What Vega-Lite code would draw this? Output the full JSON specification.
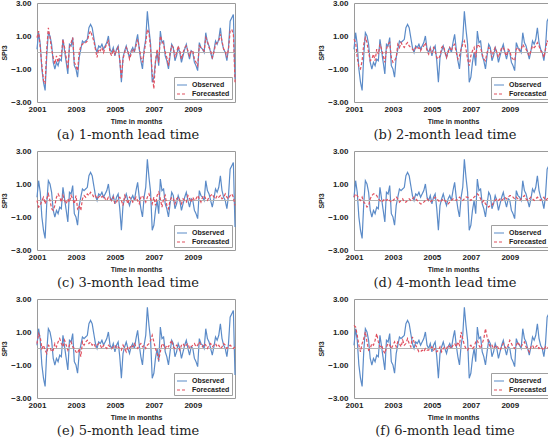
{
"$schema": "https://vega.github.io/schema/vega-lite/v6.json",
"padding": {"left": 0, "top": -2, "right": 0, "bottom": 0},
"background": "white",
"datasets": {"d": [
{"m":0,"o":0.2,"a":0.9,"b":0.8,"c":0.0,"d":0.2,"e":0.3,"f":1.4},
{"m":1,"o":1.2,"a":1.3,"b":0.6,"c":-0.4,"d":0.4,"e":0.9,"f":1.3},
{"m":2,"o":0.5,"a":0.3,"b":-0.3,"c":-0.3,"d":0.3,"e":0.7,"f":0.8},
{"m":3,"o":-1.0,"a":-0.8,"b":-0.9,"c":0.0,"d":0.1,"e":0.0,"f":0.2},
{"m":4,"o":-1.8,"a":-1.7,"b":-1.0,"c":0.2,"d":0.0,"e":0.2,"f":-0.2},
{"m":5,"o":-2.3,"a":-1.9,"b":-0.5,"c":-0.2,"d":0.2,"e":-0.1,"f":0.3},
{"m":6,"o":-0.2,"a":0.2,"b":0.5,"c":0.1,"d":-0.1,"e":-0.3,"f":0.6},
{"m":7,"o":1.2,"a":1.5,"b":0.9,"c":0.4,"d":-0.2,"e":0.2,"f":1.0},
{"m":8,"o":1.0,"a":0.9,"b":0.6,"c":0.0,"d":-0.4,"e":0.1,"f":0.4},
{"m":9,"o":0.5,"a":0.2,"b":0.0,"c":-0.5,"d":-0.3,"e":-0.2,"f":-0.1},
{"m":10,"o":-0.6,"a":-0.3,"b":-0.5,"c":-0.6,"d":0.1,"e":-0.1,"f":0.0},
{"m":11,"o":-1.0,"a":-0.7,"b":-0.4,"c":-0.3,"d":0.3,"e":0.3,"f":0.3},
{"m":12,"o":-0.6,"a":-0.2,"b":-0.1,"c":0.2,"d":0.4,"e":0.1,"f":0.2},
{"m":13,"o":-0.8,"a":-0.6,"b":-0.5,"c":0.4,"d":0.4,"e":0.4,"f":0.5},
{"m":14,"o":-0.4,"a":-0.2,"b":0.2,"c":0.2,"d":0.3,"e":0.6,"f":0.9},
{"m":15,"o":-0.5,"a":-0.2,"b":-0.1,"c":-0.1,"d":0.1,"e":0.3,"f":0.4},
{"m":16,"o":0.8,"a":0.8,"b":0.5,"c":0.3,"d":0.0,"e":0.1,"f":0.1},
{"m":17,"o":0.1,"a":0.3,"b":0.2,"c":0.0,"d":-0.1,"e":0.5,"f":0.2},
{"m":18,"o":-0.6,"a":-0.3,"b":-0.2,"c":-0.2,"d":0.0,"e":0.2,"f":-0.1},
{"m":19,"o":-1.3,"a":-1.0,"b":-0.6,"c":0.1,"d":0.1,"e":-0.1,"f":-0.3},
{"m":20,"o":0.5,"a":0.3,"b":0.2,"c":-0.1,"d":0.0,"e":0.2,"f":0.1},
{"m":21,"o":0.4,"a":0.6,"b":0.5,"c":0.3,"d":0.1,"e":0.4,"f":0.3},
{"m":22,"o":0.9,"a":0.9,"b":0.6,"c":0.1,"d":0.0,"e":0.1,"f":0.2},
{"m":23,"o":-0.8,"a":-0.6,"b":-0.3,"c":-0.2,"d":-0.1,"e":0.0,"f":0.0},
{"m":24,"o":-1.0,"a":-0.8,"b":-0.6,"c":0.3,"d":0.0,"e":-0.2,"f":0.2},
{"m":25,"o":-1.5,"a":-1.1,"b":-0.5,"c":-0.5,"d":0.1,"e":-0.3,"f":0.4},
{"m":26,"o":-0.3,"a":0.0,"b":-0.3,"c":-0.3,"d":0.2,"e":0.0,"f":0.1},
{"m":27,"o":0.2,"a":0.4,"b":0.5,"c":-0.6,"d":0.1,"e":-0.5,"f":0.4},
{"m":28,"o":0.7,"a":0.5,"b":0.3,"c":0.1,"d":-0.1,"e":0.4,"f":0.3},
{"m":29,"o":0.6,"a":0.6,"b":0.6,"c":0.3,"d":0.0,"e":0.2,"f":0.1},
{"m":30,"o":0.7,"a":0.6,"b":0.4,"c":0.2,"d":0.1,"e":0.4,"f":0.5},
{"m":31,"o":0.8,"a":0.7,"b":0.3,"c":0.4,"d":-0.1,"e":0.5,"f":0.2},
{"m":32,"o":1.5,"a":1.1,"b":0.5,"c":0.3,"d":-0.1,"e":0.3,"f":0.3},
{"m":33,"o":1.7,"a":1.3,"b":0.6,"c":0.5,"d":0.0,"e":0.4,"f":0.6},
{"m":34,"o":1.5,"a":1.0,"b":0.4,"c":0.4,"d":0.1,"e":0.2,"f":0.3},
{"m":35,"o":0.9,"a":0.7,"b":0.3,"c":0.2,"d":0.0,"e":0.3,"f":0.1},
{"m":36,"o":0.3,"a":0.2,"b":0.2,"c":0.3,"d":0.1,"e":0.1,"f":0.7},
{"m":37,"o":0.0,"a":-0.3,"b":0.1,"c":0.1,"d":0.2,"e":0.2,"f":0.4},
{"m":38,"o":0.4,"a":0.2,"b":0.3,"c":0.2,"d":0.1,"e":0.3,"f":0.2},
{"m":39,"o":0.3,"a":0.1,"b":0.2,"c":0.3,"d":0.0,"e":0.2,"f":0.0},
{"m":40,"o":0.5,"a":0.3,"b":0.3,"c":0.2,"d":-0.1,"e":0.0,"f":-0.2},
{"m":41,"o":0.2,"a":0.0,"b":0.1,"c":0.3,"d":-0.2,"e":0.2,"f":-0.2},
{"m":42,"o":0.4,"a":0.3,"b":0.3,"c":0.1,"d":-0.2,"e":0.1,"f":-0.1},
{"m":43,"o":0.6,"a":0.5,"b":0.4,"c":0.0,"d":-0.1,"e":0.0,"f":-0.2},
{"m":44,"o":1.0,"a":0.7,"b":0.6,"c":0.2,"d":0.0,"e":0.2,"f":0.0},
{"m":45,"o":0.2,"a":0.0,"b":0.1,"c":0.1,"d":0.1,"e":0.1,"f":-0.1},
{"m":46,"o":0.0,"a":-0.2,"b":-0.1,"c":0.0,"d":0.0,"e":0.0,"f":-0.1},
{"m":47,"o":0.3,"a":0.2,"b":0.2,"c":0.2,"d":-0.1,"e":0.1,"f":0.0},
{"m":48,"o":-0.2,"a":-0.1,"b":0.0,"c":-0.2,"d":0.0,"e":0.2,"f":0.1},
{"m":49,"o":0.2,"a":0.1,"b":0.3,"c":-0.1,"d":0.1,"e":0.0,"f":-0.1},
{"m":50,"o":0.4,"a":0.3,"b":0.1,"c":0.1,"d":0.2,"e":0.1,"f":0.0},
{"m":51,"o":-0.5,"a":-0.4,"b":-0.3,"c":0.2,"d":0.1,"e":0.0,"f":-0.2},
{"m":52,"o":-1.8,"a":-1.6,"b":-0.4,"c":0.0,"d":0.0,"e":-0.1,"f":-0.1},
{"m":53,"o":-0.3,"a":-0.4,"b":-0.2,"c":-0.3,"d":-0.1,"e":0.2,"f":0.1},
{"m":54,"o":0.1,"a":0.0,"b":0.3,"c":0.3,"d":0.0,"e":0.0,"f":-0.2},
{"m":55,"o":0.4,"a":0.3,"b":0.4,"c":0.1,"d":0.1,"e":-0.2,"f":0.0},
{"m":56,"o":0.0,"a":0.1,"b":0.1,"c":-0.2,"d":0.0,"e":0.1,"f":0.1},
{"m":57,"o":-0.3,"a":-0.4,"b":-0.3,"c":0.2,"d":-0.1,"e":0.0,"f":0.0},
{"m":58,"o":0.1,"a":-0.1,"b":0.0,"c":0.1,"d":-0.2,"e":0.2,"f":0.2},
{"m":59,"o":0.3,"a":0.2,"b":0.3,"c":-0.1,"d":-0.1,"e":0.1,"f":0.1},
{"m":60,"o":0.0,"a":0.1,"b":0.1,"c":0.0,"d":0.0,"e":0.3,"f":0.0},
{"m":61,"o":0.6,"a":0.4,"b":0.4,"c":0.2,"d":0.1,"e":0.1,"f":0.2},
{"m":62,"o":1.1,"a":0.8,"b":0.5,"c":0.0,"d":0.1,"e":0.0,"f":0.3},
{"m":63,"o":0.2,"a":0.3,"b":0.0,"c":-0.2,"d":0.0,"e":0.2,"f":0.1},
{"m":64,"o":-0.5,"a":-0.3,"b":-0.4,"c":0.2,"d":0.1,"e":0.3,"f":0.4},
{"m":65,"o":-1.0,"a":-0.6,"b":-0.2,"c":0.3,"d":0.2,"e":0.1,"f":0.2},
{"m":66,"o":0.2,"a":0.0,"b":0.2,"c":0.1,"d":0.1,"e":0.2,"f":1.0},
{"m":67,"o":0.8,"a":0.6,"b":0.5,"c":-0.1,"d":0.0,"e":0.0,"f":0.6},
{"m":68,"o":2.5,"a":1.4,"b":0.7,"c":0.2,"d":0.1,"e":0.2,"f":0.2},
{"m":69,"o":1.4,"a":1.2,"b":0.2,"c":0.4,"d":0.2,"e":0.3,"f":0.0},
{"m":70,"o":0.5,"a":0.2,"b":-0.4,"c":0.1,"d":0.2,"e":0.5,"f":-0.1},
{"m":71,"o":-1.8,"a":-1.3,"b":-0.8,"c":-0.2,"d":0.1,"e":0.8,"f":0.1},
{"m":72,"o":-1.5,"a":-2.2,"b":-0.2,"c":0.2,"d":0.0,"e":0.4,"f":0.2},
{"m":73,"o":-0.6,"a":-0.5,"b":0.1,"c":-0.3,"d":0.1,"e":0.0,"f":0.0},
{"m":74,"o":0.0,"a":0.2,"b":0.3,"c":0.3,"d":0.2,"e":-0.3,"f":0.1},
{"m":75,"o":-0.8,"a":-0.6,"b":-0.3,"c":0.5,"d":0.3,"e":-0.7,"f":0.4},
{"m":76,"o":1.3,"a":1.0,"b":0.5,"c":0.1,"d":0.4,"e":-0.2,"f":0.5},
{"m":77,"o":0.6,"a":0.7,"b":0.4,"c":-0.4,"d":0.3,"e":0.3,"f":0.2},
{"m":78,"o":0.7,"a":0.5,"b":0.3,"c":0.1,"d":0.1,"e":0.2,"f":0.0},
{"m":79,"o":-0.2,"a":0.0,"b":-0.1,"c":0.3,"d":-0.1,"e":0.0,"f":0.3},
{"m":80,"o":-0.5,"a":-0.3,"b":-0.4,"c":-0.3,"d":0.0,"e":0.2,"f":0.6},
{"m":81,"o":-1.0,"a":-0.8,"b":-0.5,"c":-0.5,"d":-0.2,"e":0.1,"f":1.2},
{"m":82,"o":-0.2,"a":0.0,"b":0.0,"c":0.0,"d":-0.3,"e":0.3,"f":0.7},
{"m":83,"o":0.5,"a":0.4,"b":0.3,"c":0.2,"d":-0.4,"e":0.5,"f":0.3},
{"m":84,"o":0.3,"a":0.3,"b":0.2,"c":0.1,"d":-0.3,"e":0.1,"f":0.1},
{"m":85,"o":-0.5,"a":-0.3,"b":-0.3,"c":-0.2,"d":-0.3,"e":0.0,"f":0.2},
{"m":86,"o":-0.2,"a":0.0,"b":0.1,"c":0.1,"d":-0.1,"e":0.2,"f":0.0},
{"m":87,"o":0.3,"a":0.4,"b":0.3,"c":0.2,"d":0.0,"e":0.1,"f":0.1},
{"m":88,"o":0.0,"a":0.1,"b":0.0,"c":0.0,"d":0.1,"e":-0.1,"f":0.2},
{"m":89,"o":-0.6,"a":-0.4,"b":-0.3,"c":-0.2,"d":0.0,"e":0.2,"f":0.0},
{"m":90,"o":-0.2,"a":0.0,"b":0.0,"c":0.1,"d":0.1,"e":0.3,"f":-0.1},
{"m":91,"o":0.2,"a":0.3,"b":0.3,"c":0.0,"d":0.0,"e":0.1,"f":0.1},
{"m":92,"o":0.5,"a":0.4,"b":0.3,"c":-0.1,"d":0.1,"e":0.2,"f":0.3},
{"m":93,"o":0.0,"a":0.1,"b":0.0,"c":0.3,"d":0.2,"e":0.3,"f":0.1},
{"m":94,"o":-0.4,"a":-0.2,"b":-0.2,"c":0.1,"d":0.1,"e":0.0,"f":0.0},
{"m":95,"o":0.1,"a":0.1,"b":0.2,"c":-0.1,"d":0.2,"e":0.1,"f":0.2},
{"m":96,"o":0.0,"a":0.1,"b":0.1,"c":0.2,"d":0.3,"e":0.2,"f":0.5},
{"m":97,"o":-0.6,"a":-0.4,"b":-0.3,"c":0.0,"d":0.3,"e":0.3,"f":0.3},
{"m":98,"o":-0.8,"a":-0.6,"b":-0.4,"c":0.1,"d":0.2,"e":0.1,"f":0.1},
{"m":99,"o":-1.1,"a":-0.8,"b":-0.5,"c":0.3,"d":0.1,"e":0.2,"f":0.0},
{"m":100,"o":0.6,"a":0.4,"b":0.2,"c":0.1,"d":0.2,"e":0.4,"f":0.2},
{"m":101,"o":0.3,"a":0.3,"b":0.3,"c":-0.1,"d":0.1,"e":0.2,"f":0.4},
{"m":102,"o":0.2,"a":0.2,"b":0.1,"c":0.2,"d":0.0,"e":0.1,"f":0.2},
{"m":103,"o":0.0,"a":0.1,"b":0.2,"c":0.3,"d":0.1,"e":0.3,"f":0.1},
{"m":104,"o":1.2,"a":0.9,"b":0.5,"c":0.1,"d":0.2,"e":0.2,"f":0.3},
{"m":105,"o":0.6,"a":0.7,"b":0.3,"c":0.0,"d":0.3,"e":0.0,"f":0.4},
{"m":106,"o":0.4,"a":0.3,"b":0.2,"c":0.2,"d":0.1,"e":0.2,"f":0.1},
{"m":107,"o":0.0,"a":0.1,"b":0.0,"c":0.3,"d":0.0,"e":0.3,"f":0.0},
{"m":108,"o":-0.4,"a":-0.3,"b":-0.2,"c":0.4,"d":0.1,"e":0.1,"f":-0.2},
{"m":109,"o":0.1,"a":0.0,"b":0.1,"c":0.2,"d":0.2,"e":0.2,"f":0.1},
{"m":110,"o":0.7,"a":0.5,"b":0.4,"c":0.1,"d":0.1,"e":0.3,"f":0.2},
{"m":111,"o":0.5,"a":0.6,"b":0.3,"c":0.3,"d":0.0,"e":0.1,"f":0.0},
{"m":112,"o":0.8,"a":0.7,"b":0.4,"c":0.2,"d":0.1,"e":0.2,"f":0.1},
{"m":113,"o":1.5,"a":1.1,"b":0.6,"c":0.3,"d":0.2,"e":0.0,"f":0.2},
{"m":114,"o":0.6,"a":0.7,"b":0.4,"c":0.1,"d":0.1,"e":0.1,"f":0.0},
{"m":115,"o":0.2,"a":0.2,"b":0.1,"c":0.2,"d":0.0,"e":0.3,"f":0.1},
{"m":116,"o":0.0,"a":0.1,"b":0.0,"c":0.4,"d":0.1,"e":0.2,"f":0.0},
{"m":117,"o":-0.5,"a":-0.3,"b":-0.3,"c":0.2,"d":0.2,"e":0.0,"f":-0.1},
{"m":118,"o":0.3,"a":0.2,"b":0.2,"c":0.1,"d":0.0,"e":0.1,"f":0.1},
{"m":119,"o":1.9,"a":1.3,"b":0.7,"c":0.3,"d":0.1,"e":0.2,"f":0.0},
{"m":120,"o":2.1,"a":1.4,"b":0.6,"c":0.4,"d":0.2,"e":0.1,"f":0.1},
{"m":121,"o":2.3,"a":1.1,"b":0.4,"c":0.2,"d":0.1,"e":0.0,"f":0.0},
{"m":122,"o":-1.6,"a":-1.8,"b":-0.9,"c":-0.3,"d":0.0,"e":0.1,"f":-0.1}
]},
"vconcat": [
{"hconcat": [
{"width":198,"height":99,"title":{"text":"(a) 1-month lead time"},"layer":[
{"data":{"name":"d"},"mark":{"type":"line","strokeWidth":1.2},"encoding":{"x":{"field":"m","type":"quantitative","title":"Time in months","scale":{"domain":[0,122],"nice":false},"axis":{"values":[0,24,48,72,96],"labelExpr":"2001 + datum.value/12"}},"y":{"field":"o","type":"quantitative","title":"SPI3","scale":{"domain":[-3,3],"nice":false},"axis":{"values":[-3,-1,1,3],"format":".2f","labelOverlap":false,"labelSeparation":0,"labelBound":false}},"color":{"datum":"Observed","type":"nominal","scale":{"domain":["Observed","Forecasted"],"range":["#5b8bc8","#e0505f"]},"legend":{"title":null}},"strokeDash":{"datum":"Observed","type":"nominal","scale":{"domain":["Observed","Forecasted"],"range":[[1,0],[3,2]]},"legend":{"title":null}}}},
{"data":{"values":[{}]},"mark":{"type":"rule","color":"#b4b4b4","strokeWidth":1},"encoding":{"y":{"datum":0,"type":"quantitative","title":"SPI3","axis":{"values":[-3,-1,1,3],"format":".2f","labelOverlap":false,"labelSeparation":0,"labelBound":false}}}},
{"data":{"name":"d"},"mark":{"type":"line","strokeWidth":1.2},"encoding":{"x":{"field":"m","type":"quantitative","title":"Time in months"},"y":{"field":"a","type":"quantitative","title":"SPI3","axis":{"values":[-3,-1,1,3],"format":".2f","labelOverlap":false,"labelSeparation":0,"labelBound":false}},"color":{"datum":"Forecasted","type":"nominal"},"strokeDash":{"datum":"Forecasted","type":"nominal"}}}
]},
{"width":198,"height":99,"title":{"text":"(b) 2-month lead time"},"layer":[
{"data":{"name":"d"},"mark":{"type":"line","strokeWidth":1.2},"encoding":{"x":{"field":"m","type":"quantitative","title":"Time in months","scale":{"domain":[0,122],"nice":false},"axis":{"values":[0,24,48,72,96],"labelExpr":"2001 + datum.value/12"}},"y":{"field":"o","type":"quantitative","title":"SPI3","scale":{"domain":[-3,3],"nice":false},"axis":{"values":[-3,-1,1,3],"format":".2f","labelOverlap":false,"labelSeparation":0,"labelBound":false}},"color":{"datum":"Observed","type":"nominal","scale":{"domain":["Observed","Forecasted"],"range":["#5b8bc8","#e0505f"]},"legend":{"title":null}},"strokeDash":{"datum":"Observed","type":"nominal","scale":{"domain":["Observed","Forecasted"],"range":[[1,0],[3,2]]},"legend":{"title":null}}}},
{"data":{"values":[{}]},"mark":{"type":"rule","color":"#b4b4b4","strokeWidth":1},"encoding":{"y":{"datum":0,"type":"quantitative","title":"SPI3","axis":{"values":[-3,-1,1,3],"format":".2f","labelOverlap":false,"labelSeparation":0,"labelBound":false}}}},
{"data":{"name":"d"},"mark":{"type":"line","strokeWidth":1.2},"encoding":{"x":{"field":"m","type":"quantitative","title":"Time in months"},"y":{"field":"b","type":"quantitative","title":"SPI3","axis":{"values":[-3,-1,1,3],"format":".2f","labelOverlap":false,"labelSeparation":0,"labelBound":false}},"color":{"datum":"Forecasted","type":"nominal"},"strokeDash":{"datum":"Forecasted","type":"nominal"}}}
]}
],"spacing":79,"resolve":{"legend":{"color":"independent","strokeDash":"independent"}}},
{"hconcat": [
{"width":198,"height":99,"title":{"text":"(c) 3-month lead time"},"layer":[
{"data":{"name":"d"},"mark":{"type":"line","strokeWidth":1.2},"encoding":{"x":{"field":"m","type":"quantitative","title":"Time in months","scale":{"domain":[0,122],"nice":false},"axis":{"values":[0,24,48,72,96],"labelExpr":"2001 + datum.value/12"}},"y":{"field":"o","type":"quantitative","title":"SPI3","scale":{"domain":[-3,3],"nice":false},"axis":{"values":[-3,-1,1,3],"format":".2f","labelOverlap":false,"labelSeparation":0,"labelBound":false}},"color":{"datum":"Observed","type":"nominal","scale":{"domain":["Observed","Forecasted"],"range":["#5b8bc8","#e0505f"]},"legend":{"title":null}},"strokeDash":{"datum":"Observed","type":"nominal","scale":{"domain":["Observed","Forecasted"],"range":[[1,0],[3,2]]},"legend":{"title":null}}}},
{"data":{"values":[{}]},"mark":{"type":"rule","color":"#b4b4b4","strokeWidth":1},"encoding":{"y":{"datum":0,"type":"quantitative","title":"SPI3","axis":{"values":[-3,-1,1,3],"format":".2f","labelOverlap":false,"labelSeparation":0,"labelBound":false}}}},
{"data":{"name":"d"},"mark":{"type":"line","strokeWidth":1.2},"encoding":{"x":{"field":"m","type":"quantitative","title":"Time in months"},"y":{"field":"c","type":"quantitative","title":"SPI3","axis":{"values":[-3,-1,1,3],"format":".2f","labelOverlap":false,"labelSeparation":0,"labelBound":false}},"color":{"datum":"Forecasted","type":"nominal"},"strokeDash":{"datum":"Forecasted","type":"nominal"}}}
]},
{"width":198,"height":99,"title":{"text":"(d) 4-month lead time"},"layer":[
{"data":{"name":"d"},"mark":{"type":"line","strokeWidth":1.2},"encoding":{"x":{"field":"m","type":"quantitative","title":"Time in months","scale":{"domain":[0,122],"nice":false},"axis":{"values":[0,24,48,72,96],"labelExpr":"2001 + datum.value/12"}},"y":{"field":"o","type":"quantitative","title":"SPI3","scale":{"domain":[-3,3],"nice":false},"axis":{"values":[-3,-1,1,3],"format":".2f","labelOverlap":false,"labelSeparation":0,"labelBound":false}},"color":{"datum":"Observed","type":"nominal","scale":{"domain":["Observed","Forecasted"],"range":["#5b8bc8","#e0505f"]},"legend":{"title":null}},"strokeDash":{"datum":"Observed","type":"nominal","scale":{"domain":["Observed","Forecasted"],"range":[[1,0],[3,2]]},"legend":{"title":null}}}},
{"data":{"values":[{}]},"mark":{"type":"rule","color":"#b4b4b4","strokeWidth":1},"encoding":{"y":{"datum":0,"type":"quantitative","title":"SPI3","axis":{"values":[-3,-1,1,3],"format":".2f","labelOverlap":false,"labelSeparation":0,"labelBound":false}}}},
{"data":{"name":"d"},"mark":{"type":"line","strokeWidth":1.2},"encoding":{"x":{"field":"m","type":"quantitative","title":"Time in months"},"y":{"field":"d","type":"quantitative","title":"SPI3","axis":{"values":[-3,-1,1,3],"format":".2f","labelOverlap":false,"labelSeparation":0,"labelBound":false}},"color":{"datum":"Forecasted","type":"nominal"},"strokeDash":{"datum":"Forecasted","type":"nominal"}}}
]}
],"spacing":79,"resolve":{"legend":{"color":"independent","strokeDash":"independent"}}},
{"hconcat": [
{"width":198,"height":99,"title":{"text":"(e) 5-month lead time"},"layer":[
{"data":{"name":"d"},"mark":{"type":"line","strokeWidth":1.2},"encoding":{"x":{"field":"m","type":"quantitative","title":"Time in months","scale":{"domain":[0,122],"nice":false},"axis":{"values":[0,24,48,72,96],"labelExpr":"2001 + datum.value/12"}},"y":{"field":"o","type":"quantitative","title":"SPI3","scale":{"domain":[-3,3],"nice":false},"axis":{"values":[-3,-1,1,3],"format":".2f","labelOverlap":false,"labelSeparation":0,"labelBound":false}},"color":{"datum":"Observed","type":"nominal","scale":{"domain":["Observed","Forecasted"],"range":["#5b8bc8","#e0505f"]},"legend":{"title":null}},"strokeDash":{"datum":"Observed","type":"nominal","scale":{"domain":["Observed","Forecasted"],"range":[[1,0],[3,2]]},"legend":{"title":null}}}},
{"data":{"values":[{}]},"mark":{"type":"rule","color":"#b4b4b4","strokeWidth":1},"encoding":{"y":{"datum":0,"type":"quantitative","title":"SPI3","axis":{"values":[-3,-1,1,3],"format":".2f","labelOverlap":false,"labelSeparation":0,"labelBound":false}}}},
{"data":{"name":"d"},"mark":{"type":"line","strokeWidth":1.2},"encoding":{"x":{"field":"m","type":"quantitative","title":"Time in months"},"y":{"field":"e","type":"quantitative","title":"SPI3","axis":{"values":[-3,-1,1,3],"format":".2f","labelOverlap":false,"labelSeparation":0,"labelBound":false}},"color":{"datum":"Forecasted","type":"nominal"},"strokeDash":{"datum":"Forecasted","type":"nominal"}}}
]},
{"width":198,"height":99,"title":{"text":"(f) 6-month lead time"},"layer":[
{"data":{"name":"d"},"mark":{"type":"line","strokeWidth":1.2},"encoding":{"x":{"field":"m","type":"quantitative","title":"Time in months","scale":{"domain":[0,122],"nice":false},"axis":{"values":[0,24,48,72,96],"labelExpr":"2001 + datum.value/12"}},"y":{"field":"o","type":"quantitative","title":"SPI3","scale":{"domain":[-3,3],"nice":false},"axis":{"values":[-3,-1,1,3],"format":".2f","labelOverlap":false,"labelSeparation":0,"labelBound":false}},"color":{"datum":"Observed","type":"nominal","scale":{"domain":["Observed","Forecasted"],"range":["#5b8bc8","#e0505f"]},"legend":{"title":null}},"strokeDash":{"datum":"Observed","type":"nominal","scale":{"domain":["Observed","Forecasted"],"range":[[1,0],[3,2]]},"legend":{"title":null}}}},
{"data":{"values":[{}]},"mark":{"type":"rule","color":"#b4b4b4","strokeWidth":1},"encoding":{"y":{"datum":0,"type":"quantitative","title":"SPI3","axis":{"values":[-3,-1,1,3],"format":".2f","labelOverlap":false,"labelSeparation":0,"labelBound":false}}}},
{"data":{"name":"d"},"mark":{"type":"line","strokeWidth":1.2},"encoding":{"x":{"field":"m","type":"quantitative","title":"Time in months"},"y":{"field":"f","type":"quantitative","title":"SPI3","axis":{"values":[-3,-1,1,3],"format":".2f","labelOverlap":false,"labelSeparation":0,"labelBound":false}},"color":{"datum":"Forecasted","type":"nominal"},"strokeDash":{"datum":"Forecasted","type":"nominal"}}}
]}
],"spacing":79,"resolve":{"legend":{"color":"independent","strokeDash":"independent"}}}
],
"spacing": 3,
"resolve": {"legend": {"color": "independent", "strokeDash": "independent"}},
"config": {
"view": {"stroke": "#9a9a9a", "strokeWidth": 1},
"font": "Liberation Sans",
"axis": {"labelFont": "Liberation Sans", "labelFontWeight": "bold", "labelFontSize": 8, "labelColor": "#222222", "titleFont": "Liberation Sans", "titleFontWeight": "bold", "titleFontSize": 7, "titleColor": "#222222", "grid": false, "domain": false, "ticks": false, "labelOverlap": false},
"axisX": {"labelPadding": 3, "titlePadding": 4, "labelFlush": false},
"axisY": {"labelPadding": 6, "titlePadding": 3, "labelFlush": false},
"title": {"orient": "bottom", "font": "DejaVu Serif", "fontSize": 13, "fontWeight": "normal", "color": "#222222", "offset": 5, "dx": -8},
"legend": {"orient": "bottom-right", "offset": 3, "padding": 2, "fillColor": "white", "strokeColor": "#a0a0a0", "labelFont": "Liberation Sans", "labelFontWeight": "bold", "labelFontSize": 7, "labelColor": "#222222", "symbolType": "stroke", "symbolSize": 100, "symbolStrokeWidth": 1.2, "rowPadding": 0, "labelOffset": 4}
}
}
